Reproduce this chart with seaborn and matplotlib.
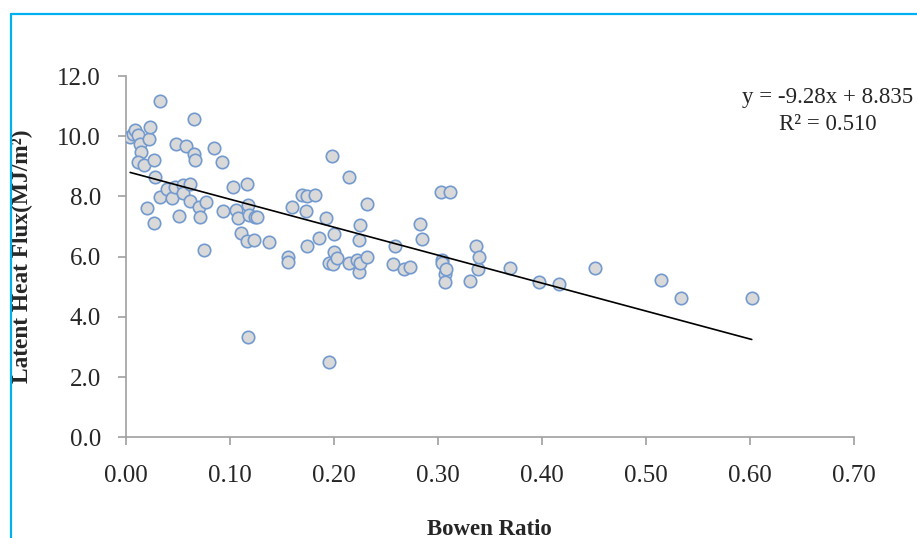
import numpy as np
import pandas as pd
import matplotlib
matplotlib.use("Agg")
import matplotlib.pyplot as plt
import seaborn as sns
from matplotlib.lines import Line2D

# values
bowen = [0.004, 0.007, 0.009, 0.012, 0.013, 0.014, 0.012, 0.017, 0.020, 0.022,
         0.023, 0.027, 0.027, 0.028, 0.033, 0.033, 0.039, 0.044, 0.047, 0.048,
         0.051, 0.055, 0.055, 0.058, 0.062, 0.062, 0.065, 0.065, 0.066, 0.070,
         0.071, 0.075, 0.077, 0.085, 0.092, 0.093, 0.103, 0.106, 0.108, 0.111,
         0.116, 0.116, 0.117, 0.117, 0.118, 0.123, 0.124, 0.126, 0.138, 0.156,
         0.156, 0.160, 0.169, 0.174, 0.173, 0.174, 0.182, 0.186, 0.192, 0.195,
         0.195, 0.198, 0.199, 0.200, 0.200, 0.203, 0.215, 0.215, 0.222, 0.224,
         0.224, 0.225, 0.225, 0.232, 0.232, 0.257, 0.259, 0.267, 0.273, 0.283,
         0.285, 0.303, 0.304, 0.304, 0.307, 0.307, 0.308, 0.312, 0.331, 0.337,
         0.339, 0.340, 0.369, 0.397, 0.417, 0.451, 0.515, 0.534, 0.602]
latent = [9.99, 10.07, 10.20, 10.04, 9.74, 9.46, 9.16, 9.04, 7.61, 9.91,
          10.32, 9.21, 7.11, 8.64, 11.17, 7.97, 8.24, 7.95, 8.33, 9.74,
          7.36, 8.38, 8.13, 9.68, 8.42, 7.86, 10.57, 9.40, 9.21, 7.66,
          7.33, 6.22, 7.81, 9.62, 9.14, 7.53, 8.31, 7.55, 7.30, 6.80,
          8.42, 6.52, 7.72, 3.34, 7.39, 6.55, 7.31, 7.31, 6.48, 5.98,
          5.81, 7.65, 8.05, 8.00, 7.51, 6.36, 8.05, 6.61, 7.28, 5.78,
          2.49, 9.35, 5.75, 6.76, 6.14, 5.96, 8.65, 5.80, 5.89, 6.55,
          5.50, 7.04, 5.78, 7.76, 5.98, 5.76, 6.36, 5.59, 5.67, 7.07,
          6.59, 8.15, 5.89, 5.78, 5.43, 5.15, 5.58, 8.16, 5.20, 6.34,
          5.58, 5.98, 5.62, 5.17, 5.09, 5.61, 5.23, 4.64, 4.62]

slope = -9.28
intercept = 8.835
r2 = 0.510

x_ticks = [0.0, 0.1, 0.2, 0.3, 0.4, 0.5, 0.6, 0.7]
y_ticks = [0.0, 2.0, 4.0, 6.0, 8.0, 10.0, 12.0]

df = pd.DataFrame({"bowen": bowen, "latent": latent})

sns.set_style("ticks")
plt.rcParams["font.family"] = ["Liberation Serif", "DejaVu Serif"]

fig = plt.figure(figsize=(9.17, 5.38), dpi=100)
ax = fig.add_axes([0.1374, 0.1872, 0.7935, 0.6715])

sns.scatterplot(data=df, x="bowen", y="latent", ax=ax, s=80,
                color="#D9D9D9", edgecolor="#739ACF", linewidth=1.2, zorder=3)

# trend line from the given equation
fit_x = np.array([df["bowen"].min(), df["bowen"].max()])
ax.plot(fit_x, slope * fit_x + intercept, color="black", lw=1.2, zorder=4)

ax.set_xlim(0, 0.7)
ax.set_ylim(0, 12)
ax.set_xticks(x_ticks)
ax.set_yticks(y_ticks)
ax.set_xticklabels([f"{v:.2f}" for v in x_ticks])
ax.set_yticklabels([f"{v:.1f}" for v in y_ticks])

for side in ["top", "right"]:
    ax.spines[side].set_visible(False)
for side in ["left", "bottom"]:
    ax.spines[side].set_color("#A0A0A0")
    ax.spines[side].set_linewidth(1.2)

ax.tick_params(axis="x", length=6, width=1.2, color="#A0A0A0",
               labelsize=18, pad=14, direction="out")
ax.tick_params(axis="y", length=6, width=1.2, color="#A0A0A0",
               labelsize=18, pad=12, direction="out")

ax.set_xlabel("Bowen Ratio", fontsize=16.5, fontweight="bold")
ax.set_ylabel("Latent Heat Flux(MJ/m²)", fontsize=16.8, fontweight="bold")
ax.xaxis.set_label_coords(0.5, -0.225)
ax.yaxis.set_label_coords(-0.128, 0.50)

eq = f"y = {slope:.2f}x + {intercept:.3f}\nR² = {r2:.3f}"
fig.text(828 / 917, 1 - 111 / 538, eq, ha="center", va="center",
         multialignment="center", fontsize=16.5, linespacing=1.4)

# blue frame on the left and top
fig.add_artist(Line2D([11 / 917, 11 / 917], [0, 1 - 14 / 538],
                      color="#00B0F0", lw=1.6, transform=fig.transFigure))
fig.add_artist(Line2D([11 / 917, 1], [1 - 14 / 538, 1 - 14 / 538],
                      color="#00B0F0", lw=1.6, transform=fig.transFigure))

fig.savefig("out.png", dpi=100)
